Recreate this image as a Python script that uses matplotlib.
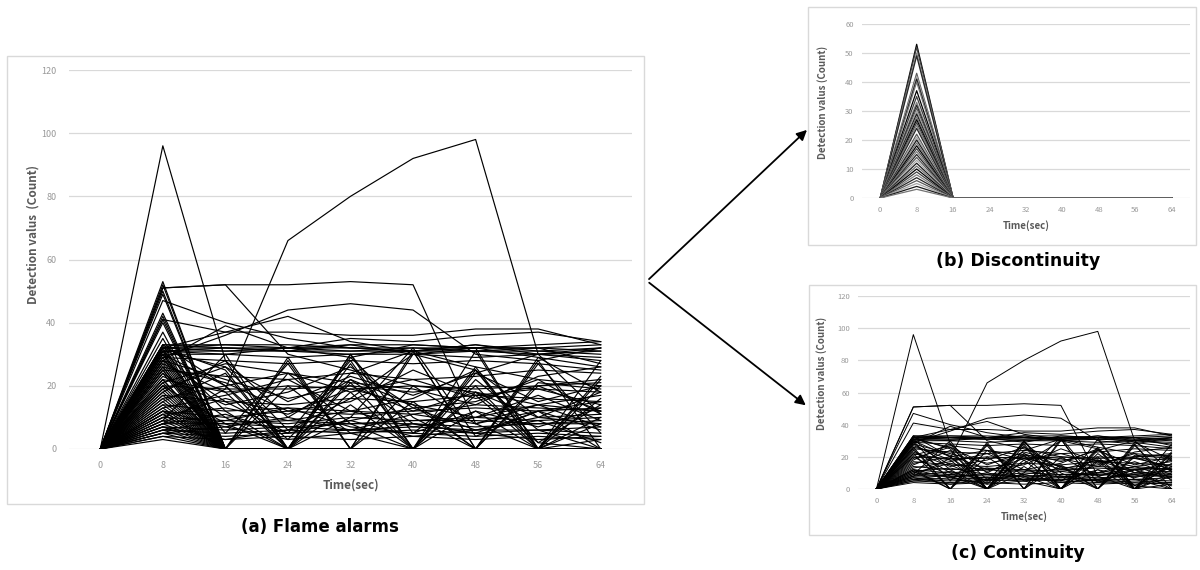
import matplotlib
matplotlib.use('Agg')
import matplotlib.pyplot as plt
from matplotlib.patches import Rectangle, FancyArrowPatch

plt.rcParams['font.family'] = ['Noto Sans CJK KR', 'DejaVu Sans']

# time axis (sec)
times = [0, 8, 16, 24, 32, 40, 48, 56, 64]
y_ticks_a = [0, 20, 40, 60, 80, 100, 120]
y_ticks_b = [0, 10, 20, 30, 40, 50, 60]

# discontinuity alarms: 0 at t=0, peak at t=8, back to 0 from t=16 on
disc_peaks = [53, 52, 50, 49, 43, 42, 41, 40, 37, 35, 33, 32, 31, 30, 29, 28,
              27, 26, 25, 24, 22, 21, 20, 19, 18, 17, 16, 15, 14, 13, 12, 11,
              10, 9, 8, 7, 6, 5, 4, 3]

# continuity alarms
cont_outliers = [
    [0, 96, 28, 10, 22, 8, 5, 12, 15],
    [0, 8, 19, 66, 80, 92, 98, 30, 31],
    [0, 51, 52, 52, 53, 52, 8, 14, 12],
    [0, 51, 52, 30, 25, 20, 18, 10, 8],
    [0, 47, 40, 35, 32, 31, 33, 30, 32],
    [0, 29, 36, 44, 46, 44, 30, 28, 32],
    [0, 41, 37, 42, 34, 31, 26, 22, 20],
    [0, 32, 37, 37, 36, 36, 38, 38, 33],
    [0, 28, 39, 32, 35, 34, 36, 37, 34],
]
cont_plateau = [
    [0, 32, 32, 32, 32, 32, 32, 32, 33],
    [0, 31, 31, 31, 31, 31, 31, 31, 32],
    [0, 33, 33, 32, 33, 33, 32, 33, 34],
    [0, 32, 31, 32, 31, 32, 31, 32, 31],
    [0, 31, 32, 31, 30, 31, 33, 31, 30],
    [0, 30, 30, 29, 30, 30, 29, 30, 29],
    [0, 33, 32, 31, 33, 30, 31, 30, 28],
    [0, 32, 33, 33, 32, 31, 32, 32, 27],
    [0, 31, 30, 32, 29, 33, 32, 29, 26],
    [0, 29, 28, 27, 28, 27, 28, 27, 25],
]
cont_zigzag = [
    [0, 31, 12, 0, 29, 10, 0, 27, 5],
    [0, 30, 20, 0, 30, 0, 25, 0, 20],
    [0, 28, 15, 5, 28, 0, 12, 0, 10],
    [0, 26, 0, 29, 0, 31, 0, 28, 0],
    [0, 24, 10, 0, 22, 14, 0, 20, 12],
    [0, 32, 25, 0, 27, 0, 31, 0, 23],
    [0, 22, 0, 20, 5, 0, 18, 2, 14],
    [0, 27, 18, 0, 30, 5, 20, 0, 16],
    [0, 20, 8, 0, 18, 0, 26, 0, 8],
    [0, 18, 28, 0, 10, 32, 4, 12, 0],
    [0, 33, 20, 3, 24, 31, 0, 29, 18],
    [0, 12, 0, 24, 8, 0, 22, 6, 0],
    [0, 9, 30, 0, 14, 0, 17, 0, 22],
    [0, 30, 5, 27, 0, 20, 8, 0, 28],
    [0, 25, 0, 0, 0, 30, 32, 0, 3],
    [0, 31, 26, 6, 16, 30, 25, 2, 0],
    [0, 15, 24, 0, 21, 0, 24, 30, 11],
    [0, 11, 0, 28, 0, 15, 0, 21, 19],
]
cont_mid = [
    [0, 22, 18, 20, 19, 20, 19, 20, 21],
    [0, 20, 19, 19, 20, 18, 20, 19, 18],
    [0, 17, 15, 14, 16, 15, 17, 16, 15],
    [0, 25, 23, 22, 24, 22, 23, 25, 24],
    [0, 14, 12, 13, 12, 11, 14, 13, 12],
    [0, 12, 10, 12, 11, 12, 13, 12, 13],
    [0, 28, 22, 16, 20, 12, 18, 14, 17],
    [0, 16, 20, 24, 18, 22, 16, 20, 22],
    [0, 19, 26, 15, 23, 17, 24, 15, 20],
    [0, 23, 14, 18, 26, 13, 15, 22, 11],
    [0, 26, 21, 12, 15, 25, 17, 19, 14],
    [0, 13, 17, 22, 12, 16, 25, 10, 18],
    [0, 21, 27, 24, 21, 19, 14, 23, 26],
    [0, 10, 16, 11, 19, 14, 10, 17, 9],
]
cont_low = [
    [0, 8, 8, 7, 8, 8, 7, 8, 8],
    [0, 7, 6, 7, 6, 7, 6, 6, 7],
    [0, 9, 8, 9, 8, 9, 9, 8, 9],
    [0, 6, 5, 6, 5, 6, 5, 6, 5],
    [0, 5, 4, 5, 6, 5, 4, 5, 4],
    [0, 10, 9, 8, 10, 9, 10, 9, 10],
    [0, 4, 3, 4, 3, 4, 3, 4, 3],
    [0, 12, 7, 10, 6, 11, 8, 12, 6],
    [0, 8, 11, 5, 9, 13, 6, 10, 11],
    [0, 6, 9, 13, 7, 5, 12, 7, 13],
    [0, 11, 13, 9, 12, 7, 10, 14, 7],
    [0, 5, 7, 3, 5, 8, 5, 3, 4],
    [0, 7, 3, 6, 9, 4, 6, 9, 2],
]

# grey shades used by the discontinuity panel
disc_greys = ['#000000', '#404040', '#808080', '#262626', '#595959',
              '#a6a6a6', '#1a1a1a', '#737373']

disc_series = [[0, p, 0, 0, 0, 0, 0, 0, 0] for p in disc_peaks]
cont_series = cont_outliers + cont_plateau + cont_zigzag + cont_mid + cont_low

W, H = 1200, 570


def px_axes(fig, x0, y_top, x1, y_bot):
    return fig.add_axes([x0 / W, 1 - y_bot / H, (x1 - x0) / W, (y_bot - y_top) / H])


def px_box(fig, x0, y0, x1, y1):
    fig.patches.append(Rectangle((x0 / W, 1 - y1 / H), (x1 - x0) / W, (y1 - y0) / H,
                                 transform=fig.transFigure, fill=False,
                                 edgecolor='#d9d9d9', linewidth=1.0))


def style_axes(ax, yticks, tick_fs, lab_fs, ylab, pad):
    ax.set_xlim(-4, 68)
    ax.set_ylim(yticks[0], yticks[-1])
    ax.set_xticks(times)
    ax.set_yticks(yticks)
    for s in ax.spines.values():
        s.set_visible(False)
    ax.grid(axis='y', color='#d9d9d9', linewidth=0.9)
    ax.set_axisbelow(True)
    ax.tick_params(length=0, labelsize=tick_fs, colors='#999999', pad=pad)
    ax.set_xlabel('Time(sec)', fontsize=lab_fs, fontweight='bold', color='#595959')
    ax.set_ylabel(ylab, fontsize=lab_fs, fontweight='bold', color='#595959')


fig = plt.figure(figsize=(12, 5.7), dpi=100)

# (a) flame alarms: everything
ax_a = px_axes(fig, 69, 70, 632, 449)
for row in disc_series + cont_series:
    ax_a.plot(times, row, color='black', linewidth=0.85)
style_axes(ax_a, y_ticks_a, 6.5, 8.5, 'Detection valus  (Count)', 9)
ax_a.xaxis.labelpad = 6
ax_a.yaxis.set_label_coords(-0.052, 0.565)
px_box(fig, 7, 56, 644, 504)

# (b) discontinuity
ax_b = px_axes(fig, 862, 24, 1190, 198)
for k, row in enumerate(disc_series):
    ax_b.plot(times, row, color=disc_greys[k % len(disc_greys)], linewidth=0.9)
style_axes(ax_b, y_ticks_b, 5.5, 7, 'Detection valus (Count)', 6)
ax_b.xaxis.labelpad = 4
ax_b.yaxis.set_label_coords(-0.105, 0.55)
px_box(fig, 808, 7, 1196, 245)

# (c) continuity
ax_c = px_axes(fig, 858, 296, 1190, 489)
for row in cont_series:
    ax_c.plot(times, row, color='black', linewidth=0.7)
style_axes(ax_c, y_ticks_a, 5.5, 7, 'Detection valus (Count)', 6)
ax_c.xaxis.labelpad = 4
ax_c.yaxis.set_label_coords(-0.093, 0.6)
px_box(fig, 809, 285, 1196, 535)

# captions
cap_font = ['DejaVu Sans']
fig.text(320 / W, 1 - 527 / H, '(a) Flame alarms', ha='center', va='center',
         fontsize=12, fontweight='bold', family=cap_font)
fig.text(1018 / W, 1 - 261 / H, '(b) Discontinuity', ha='center', va='center',
         fontsize=12.5, fontweight='bold', family=cap_font)
fig.text(1018 / W, 1 - 553 / H, '(c) Continuity', ha='center', va='center',
         fontsize=12.5, fontweight='bold', family=cap_font)

# arrows
for tip in [(809, 128), (808, 407)]:
    fig.add_artist(FancyArrowPatch(
        (647 / W, 1 - 281 / H), (tip[0] / W, 1 - tip[1] / H),
        transform=fig.transFigure, arrowstyle='-|>', mutation_scale=15,
        color='black', linewidth=1.3))

fig.savefig('out.png', dpi=100)
